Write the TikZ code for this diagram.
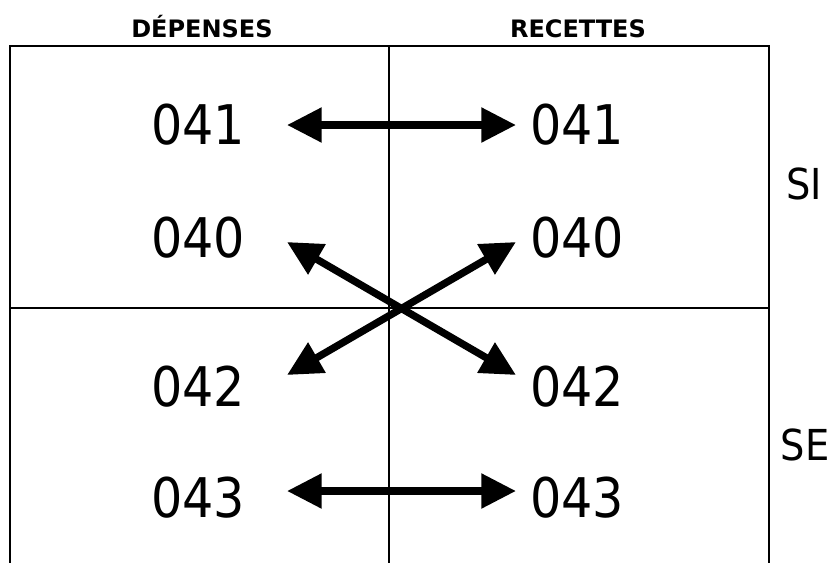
\documentclass[tikz,border=0pt]{standalone}
\usepackage{fontspec}
\setmainfont{DejaVu Sans Condensed}
\newfontfamily\headfont{DejaVu Sans}
\usetikzlibrary{arrows.meta}
\begin{document}
\begin{tikzpicture}[x=0.75pt,y=-0.75pt,
  num/.style={font=\fontsize{41}{41}\selectfont, inner sep=0pt, anchor=base},
  side/.style={font=\fontsize{32}{32}\selectfont, inner sep=0pt, anchor=base},
  head/.style={font=\headfont\bfseries\fontsize{18}{18}\selectfont, inner sep=0pt, anchor=base},
  frame/.style={line width=1.6pt, line cap=rect},
  dblarrow/.style={line width=5.5pt, {Triangle[length=26pt,width=25pt]}-{Triangle[length=26pt,width=25pt]}}]
\useasboundingbox (0,0) rectangle (833,562);
% frame
\draw[frame] (10,562) -- (10,46) -- (769,46) -- (769,562);
\draw[frame] (389,46) -- (389,562);
\draw[frame] (10,308) -- (769,308);
% headers
\node[head] (dep) at (202,37) {DÉPENSES};
\node[head] (rec) at (578,37) {RECETTES};
% side labels
\node[side] (si) at (804,199) {SI};
\node[side] (se) at (805,460) {SE};
% numbers
\node[num] (l41) at (198,144) {041};
\node[num] (r41) at (577,144) {041};
\node[num] (l40) at (198,257) {040};
\node[num] (r40) at (577,257) {040};
\node[num] (l42) at (198,406) {042};
\node[num] (r42) at (577,406) {042};
\node[num] (l43) at (198,517) {043};
\node[num] (r43) at (577,517) {043};
% arrow end points
\coordinate (a41l) at (287,125);
\coordinate (a41r) at (516,125);
\coordinate (a40l) at (287,242);
\coordinate (a40r) at (516,242);
\coordinate (a42l) at (287,375);
\coordinate (a42r) at (516,375);
\coordinate (a43l) at (287,491);
\coordinate (a43r) at (516,491);
% arrows
\draw[dblarrow] (a41l) -- (a41r);
\draw[dblarrow] (a40l) -- (a42r);
\draw[dblarrow] (a42l) -- (a40r);
\draw[dblarrow] (a43l) -- (a43r);
\end{tikzpicture}
\end{document}
